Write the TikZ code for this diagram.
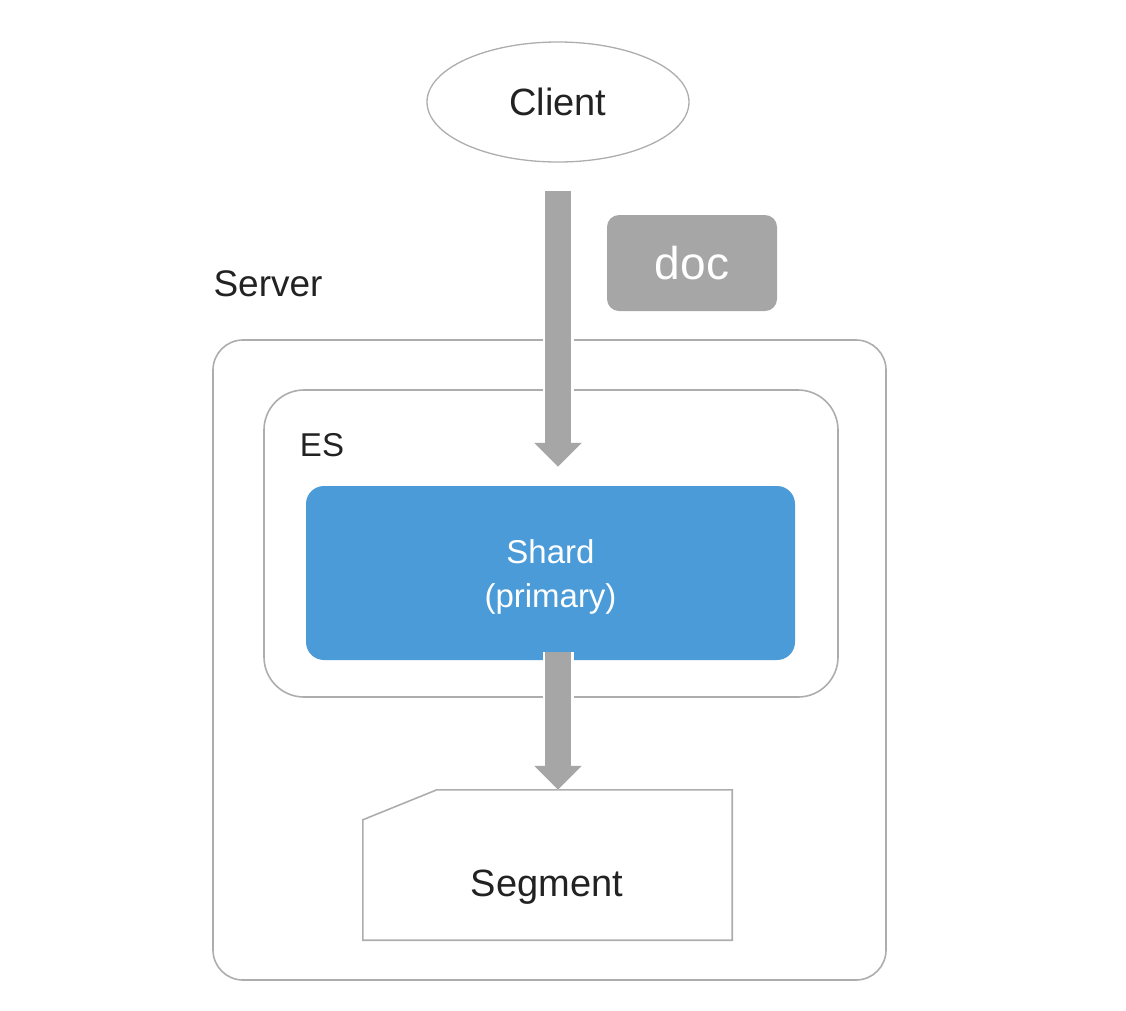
\documentclass[tikz,border=0pt]{standalone}
\usepackage{fontspec}
\setmainfont{Liberation Sans}
\usetikzlibrary{arrows.meta,shapes.geometric}
\definecolor{shardblue}{HTML}{4A9BD8}
\definecolor{boxgray}{HTML}{ADADAD}
\definecolor{arrowgray}{HTML}{A6A6A6}
\definecolor{textdark}{HTML}{222222}
\tikzset{
  outline/.style={draw=boxgray, line width=1.6pt},
  fatarrow/.style={arrowgray, line width=26pt, -{Triangle[width=46pt,length=24pt]},
    preaction={draw=white, line width=31pt, -{Triangle[width=54pt,length=28pt]}}},
  plain/.style={text=textdark, inner sep=0pt}
}

\begin{document}
\begin{tikzpicture}[x=1pt,y=-1pt]
        \useasboundingbox (0,0) rectangle (1126,1010);
        % boxes
        \node[outline, rounded corners=30pt, minimum width=673pt, minimum height=640pt] (server) at (549.5,660) {};
        \node[outline, rounded corners=40pt, minimum width=574pt, minimum height=307pt] (es) at (551,543.5) {};
        \node[fill=shardblue, rounded corners=18pt, minimum width=489pt, minimum height=174pt] (shard) at (550.5,573) {};
        \node[text=white, align=center, inner sep=0pt, font=\fontsize{33}{44}\selectfont] (shardlabel) at (550.5,577) {Shard\\(primary)};
        \node[ellipse, draw=boxgray, line width=1.3pt, minimum width=262pt, minimum height=120pt, inner sep=0pt,
              plain, font=\fontsize{38}{44}\selectfont] (client) at (558,102) {Client};
        \node[fill=arrowgray, rounded corners=12pt, minimum width=170pt, minimum height=96pt,
              text=white, font=\fontsize{46}{50}\selectfont] (doc) at (692,263) {doc};
        \node[plain, font=\fontsize{37}{44}\selectfont] (serverlabel) at (268,284) {Server};
        \node[plain, font=\fontsize{33}{44}\selectfont] (eslabel) at (322,445) {ES};
        % segment
        \node[minimum width=369pt, minimum height=150pt, inner sep=0pt] (seg) at (547.5,865) {};
        \draw[outline] (seg.south west) -- ([yshift=-30pt]seg.north west) -- ([xshift=74pt]seg.north west)
              -- (seg.north east) -- (seg.south east) -- cycle;
        \node[plain, font=\fontsize{38}{44}\selectfont] (seglabel) at (547,887) {Segment};
        % arrows
        \draw[fatarrow, shorten <=28pt, shorten >=19pt] (client.south) -- (client.south |- shard.north);
        \draw[fatarrow, shorten <=-8pt] (client.south |- shard.south) -- (client.south |- seg.north);
      \end{tikzpicture}
\end{document}
